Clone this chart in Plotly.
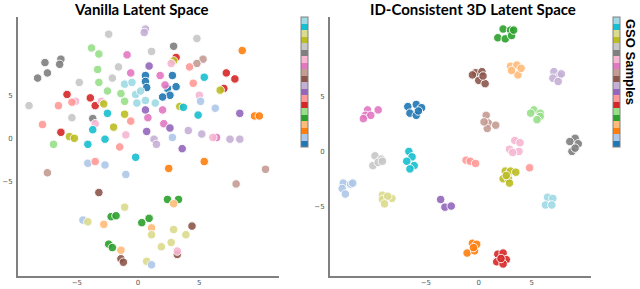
import plotly.graph_objects as go

# ---------------- data ----------------
TAB20 = ["#1f77b4", "#aec7e8", "#ff7f0e", "#ffbb78", "#2ca02c", "#98df8a",
         "#d62728", "#ff9896", "#9467bd", "#c5b0d5", "#8c564b", "#c49c94",
         "#e377c2", "#f7b6d2", "#7f7f7f", "#c7c7c7", "#bcbd22", "#dbdb8d",
         "#17becf", "#9edae5"]

tick_vals = [-5, 0, 5]

# Vanilla latent space (t-SNE coords, class id)
vanilla_x = [-2.4, 0.6, 0.5, -3.8, -3.2, -3.3, -3.2, -2.5, -1.4, -1.1,
             -7.6, -6.3, -6.4, -7.4, -8.2, -3.7, 1.1, -1.6, -2.1, -4.8,
             -8.9, -5.4, -0.9, -0.6, 0.8, 0.9, 0.6, 0.7, 0.6, 0.6,
             0.7, -1.1, -0.5, -0.2, 0.2, -0.1, 0.6, -5.8, -3.9, -3.5,
             -6.3, -6.5, -7.8, -0.6, -5.1, -5.4, -1.0, -3.0, -3.5, -2.8,
             -1.1, -2.0, -5.6, -5.2, -2.5, -3.7, -2.7, -4.1, -6.9,
             4.8, 2.9, 8.5, 9.5, 9.9, 3.1, 7.2, 7.9, 7.0, 2.9,
             6.7, 3.4, 2.7, 5.0, 5.3, 4.8, 4.2, 4.5, 2.8, 3.1,
             2.4, 2.6, 2.0, 1.8, 2.2, 2.0, 2.1, 6.4, 5.4, 3.7,
             4.9, 1.4, 5.1, 6.3, 2.8, 8.3, 2.6, 4.1, 5.2, 7.5,
             8.3, 6.1, 1.3,
             -1.5, 1.5, 3.6, -0.2, -4.1, -2.7, -1.0, -3.5, -7.4, -3.2,
             -1.1, -2.2, -1.8, 0.3, 0.9, -4.5, -4.1, -2.8, -2.4, -2.1,
             -1.4, -1.4, -1.2, 0.7, 1.1, 1.1, 1.1, 2.5, 5.4, 10.4,
             8.0, 2.4, 3.3, 2.9, 2.9, 3.9, 2.7, 1.9, 4.4, 3.2, 3.2]
vanilla_y = [12.1, 12.7, 12.3, 10.5, 9.8, 8.0, 6.5, 5.5, 5.2, 4.3,
             8.8, 9.2, 8.6, 7.6, 7.0, 2.3, 10.1, 8.3, 7.0, 6.5,
             3.8, 2.4, 9.7, 7.6, 2.4, 8.4, 3.3, 0.8, 7.3, 6.6,
             5.9, 6.3, 6.5, 5.1, 5.5, 4.1, 4.4, 5.1, 4.7, 3.8,
             0.7, 3.8, 1.6, 2.0, 4.3, 4.2, 0.4, 4.3, 1.7, 4.0,
             2.8, 1.3, 0.2, 0.0, 2.9, 1.0, -0.1, -0.7, -0.7,
             11.6, 10.7, 10.2, 2.6, 2.6, 9.4, 7.6, 6.9, 5.8, 9.0,
             5.6, 3.7, 8.7, 5.0, 9.2, 8.7, 8.3, 6.4, 7.3, 6.0,
             5.8, 5.0, 4.8, 7.3, 6.2, 3.3, 1.7, 0.1, 7.1, 3.6,
             2.7, 4.1, 4.3, 3.5, 0.1, 2.9, 1.2, 0.9, 0.5, -0.1,
             -0.1, 0.1, -0.1,
             -1.0, -0.7, -1.2, -2.2, -2.9, -3.1, -4.2, -2.7, -4.0, -6.3,
             -8.0, -9.1, -9.0, -9.8, -9.3, -9.5, -9.7, -10.0, -12.3, -12.7,
             -13.0, -14.0, -14.4, -14.3, -14.7, -10.4, -11.2, -3.5, -2.7, -3.6,
             -5.3, -7.1, -7.1, -7.6, -10.6, -11.2, -12.1, -12.6, -10.2, -13.5, -13.1]
vanilla_c = [15, 9, 9, 5, 5, 5, 5, 5, 5, 5,
             14, 14, 14, 14, 14, 14, 15, 15, 15, 15,
             15, 15, 12, 12, 12, 8, 8, 8, 0, 0,
             0, 19, 19, 19, 19, 19, 19, 6, 6, 6,
             6, 7, 7, 7, 13, 7, 13, 13, 13, 16,
             16, 16, 16, 16, 18, 18, 18, 18, 5,
             15, 14, 2, 2, 2, 6, 6, 6, 6, 16,
             16, 16, 13, 13, 11, 11, 7, 7, 0, 0,
             0, 0, 0, 12, 12, 12, 12, 12, 18, 18,
             18, 19, 1, 1, 1, 8, 8, 9, 9, 9,
             9, 13, 9,
             7, 9, 8, 18, 1, 1, 1, 7, 11, 10,
             17, 4, 4, 4, 4, 1, 17, 3, 4, 4,
             3, 10, 10, 17, 1, 3, 17, 2, 2, 11,
             11, 4, 4, 3, 17, 17, 17, 17, 10, 10, 13]

# ID-consistent 3D latent space
consistent_x = [-10.5, -9.5, -10.7, -10.2, -10.9,
                -6.7, -5.9, -5.4, -6.5, -5.9, -5.7,
                -9.8, -9.2, -10.0, -9.5, -9.1,
                -6.6, -6.3, -6.8, -6.1, -6.5,
                -12.8, -12.1, -12.9, -12.6, -11.9,
                -9.1, -8.2, -9.1, -8.6, -8.9,
                -3.6, -3.2, -2.6,
                2.3, 3.0, 1.8, 2.5, 3.1, 3.3,
                3.0, 3.6, 3.7, 4.0, 3.1,
                -0.3, 0.3, -0.6, 0.0, 0.6, 0.4,
                7.1, 7.6, 7.0, 7.5, 7.8,
                5.2, 5.8, 5.8, 4.9, 5.5,
                0.7, 0.9, 1.6, 0.8, 0.5,
                9.1, 9.4, 8.8, 8.6, 9.1,
                3.4, 3.9, 2.9, 3.8, 3.2,
                -1.2, -0.8, -0.3, 4.8,
                2.5, 3.0, 3.5, 2.3, 2.8, 2.9, 2.6,
                6.5, 7.0, 6.3, 6.9,
                -0.6, -0.2, -1.1, -0.4, -0.5,
                1.8, 2.3, 1.7, 2.6, 2.3, 2.1]
consistent_y = [3.8, 3.8, 3.3, 3.3, 3.0,
                4.1, 4.3, 4.0, 3.5, 3.3, 3.7,
                -0.4, -0.7, -1.3, -1.0, -0.9,
                0.0, -0.5, -0.9, -1.3, -1.6,
                -2.9, -3.0, -3.4, -3.9, -2.9,
                -4.0, -4.3, -4.4, -4.1, -4.8,
                -4.4, -5.1, -5.0,
                11.2, 11.1, 10.4, 10.3, 10.6, 11.1,
                7.8, 7.9, 7.0, 7.6, 7.4,
                7.2, 7.3, 7.0, 6.5, 6.2, 6.9,
                7.3, 6.9, 6.7, 6.4, 7.1,
                3.8, 3.5, 3.2, 3.5, 2.9,
                3.3, 2.6, 2.4, 2.1, 2.7,
                1.2, 0.7, 0.0, 0.9, 0.3,
                1.0, 0.8, 0.2, 0.0, -0.1,
                -0.8, -0.9, -1.1, -1.5,
                -1.8, -1.8, -1.9, -2.5, -2.5, -2.9, -2.2,
                -4.2, -4.3, -4.9, -4.9,
                -8.4, -8.5, -9.3, -9.1, -8.8,
                -9.4, -9.3, -10.1, -9.9, -10.3, -9.8]
consistent_c = [12] * 5 + [0] * 6 + [15] * 5 + [18] * 5 + [1] * 5 + [17] * 5 + [8] * 3 + \
               [4] * 6 + [3] * 5 + [10] * 6 + [9] * 5 + [5] * 5 + [11] * 5 + [14] * 5 + \
               [13] * 5 + [7] * 4 + [16] * 7 + [19] * 4 + [2] * 5 + [6] * 6

# ---------------- figure ----------------
scale = []
for i, col in enumerate(TAB20):
    scale.append([i / 20, col])
    scale.append([(i + 1) / 20, col])

W, H = 640, 289
y_dom = [13 / H, 272 / H]


def cbar(xpx):
    return dict(x=xpx / W, xanchor="left", xref="paper", y=y_dom[1], yanchor="top",
                len=130 / H, lenmode="fraction", thickness=7, thicknessmode="pixels",
                outlinecolor="#808080", outlinewidth=1, showticklabels=False,
                ticks="", xpad=0, ypad=0)


fig = go.Figure()
fig.add_trace(go.Scatter(
    x=vanilla_x, y=vanilla_y, mode="markers", xaxis="x", yaxis="y",
    marker=dict(color=vanilla_c, colorscale=scale, cmin=-0.5, cmax=19.5, size=8.5,
                opacity=0.9, line=dict(color="white", width=1),
                showscale=True, colorbar=cbar(301)),
    showlegend=False, hoverinfo="skip"))
fig.add_trace(go.Scatter(
    x=consistent_x, y=consistent_y, mode="markers", xaxis="x2", yaxis="y2",
    marker=dict(color=consistent_c, colorscale=scale, cmin=-0.5, cmax=19.5, size=8.5,
                opacity=0.9, line=dict(color="white", width=1),
                showscale=True, colorbar=cbar(613)),
    showlegend=False, hoverinfo="skip"))

axis_common = dict(showgrid=False, zeroline=False, showline=True, linecolor="#808080",
                   linewidth=2, ticks="", tickvals=tick_vals, automargin=False,
                   tickfont=dict(size=7, color="#555555", family="DejaVu Sans"))

fig.update_layout(
    width=W, height=H, margin=dict(l=0, r=0, t=0, b=0, autoexpand=False),
    paper_bgcolor="white", plot_bgcolor="white",
    xaxis=dict(domain=[18 / W, 279 / W], range=[-9.8, 11.5], anchor="y",
               ticklabelstandoff=-1, **axis_common),
    yaxis=dict(domain=y_dom, range=[-16.0, 14.1], anchor="x", ticklabelstandoff=2,
               **axis_common),
    xaxis2=dict(domain=[330 / W, 591 / W], range=[-14.05, 10.6], anchor="y2",
                ticklabelstandoff=-1, **axis_common),
    yaxis2=dict(domain=y_dom, range=[-11.4, 12.3], anchor="x2", ticklabelstandoff=2,
                **axis_common),
    annotations=[
        dict(text="<b>Vanilla Latent Space</b>", x=141 / W, y=1 - 9 / H, xref="paper",
             yref="paper", showarrow=False, xanchor="center", yanchor="middle",
             font=dict(family="Comic Sans MS, Lato, sans-serif", size=15, color="black")),
        dict(text="<b>ID-Consistent 3D Latent Space</b>", x=473 / W, y=1 - 9 / H,
             xref="paper", yref="paper", showarrow=False, xanchor="center",
             yanchor="middle",
             font=dict(family="Comic Sans MS, Lato, sans-serif", size=15, color="black")),
        dict(text="<b>GSO Samples</b>", x=630 / W, y=1 - 62 / H, xref="paper",
             yref="paper", showarrow=False, textangle=90, xanchor="center",
             yanchor="middle",
             font=dict(family="Liberation Sans, Arial, sans-serif", size=13, color="black")),
    ],
)

fig.write_html("out.html", config={"displayModeBar": False, "staticPlot": True},
               post_script="document.body.style.margin='0px';"
                           "document.body.style.overflow='hidden';")
